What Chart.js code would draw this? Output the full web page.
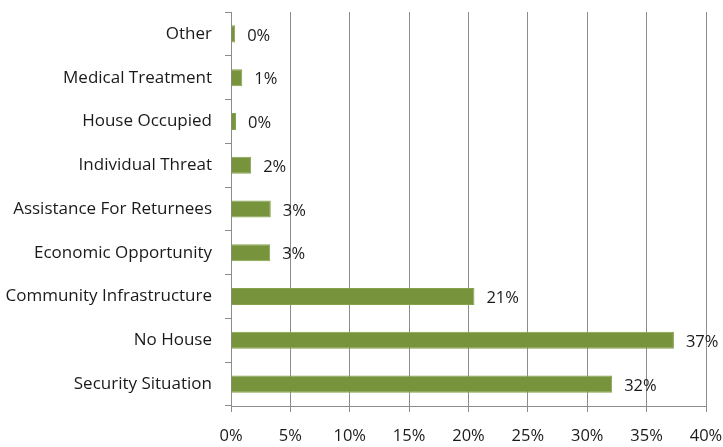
<!DOCTYPE html>
<html>
<head>
<meta charset="utf-8">
<script src="https://cdn.jsdelivr.net/npm/chart.js@4/dist/chart.umd.min.js"></script>
<style>
  html, body { margin: 0; padding: 0; background: #fff; }
  #wrap { width: 723px; height: 447px; }
</style>
</head>
<body>
<div id="wrap"><canvas id="grafico" width="723" height="447"></canvas></div>
<script>
const categorias = [
  'Other',
  'Medical Treatment',
  'House Occupied',
  'Individual Threat',
  'Assistance For Returnees',
  'Economic Opportunity',
  'Community Infrastructure',
  'No House',
  'Security Situation'
];
const valores = [0.35, 0.95, 0.42, 1.7, 3.35, 3.3, 20.5, 37.3, 32.1];
const rotulos = ['0%', '1%', '0%', '2%', '3%', '3%', '21%', '37%', '32%'];
const ticksX = [0, 5, 10, 15, 20, 25, 30, 35, 40];

const fonte = "'Open Sans', 'Liberation Sans', sans-serif";
const corTexto = '#1a1a1a';
const corGrade = '#8c8c8c';

// escreve o valor ao lado de cada barra
const rotulosPlugin = {
  id: 'rotulos',
  afterDatasetsDraw(chart) {
    const ctx = chart.ctx;
    const meta = chart.getDatasetMeta(0);
    ctx.save();
    ctx.font = '16.5px ' + fonte;
    ctx.fillStyle = corTexto;
    ctx.textAlign = 'left';
    ctx.textBaseline = 'middle';
    meta.data.forEach((bar, i) => {
      ctx.fillText(rotulos[i], bar.x + 12, bar.y + 2);
    });
    ctx.restore();
  }
};

new Chart(document.getElementById('grafico'), {
  type: 'bar',
  data: {
    labels: categorias,
    datasets: [{
      data: valores,
      backgroundColor: '#77933c',
      borderColor: '#86a24b',
      borderWidth: 1,
      borderSkipped: 'start',
      barPercentage: 0.39,
      categoryPercentage: 1
    }]
  },
  options: {
    indexAxis: 'y',
    responsive: false,
    animation: false,
    layout: { padding: { top: 12, right: 17, left: 0, bottom: 0 } },
    plugins: {
      legend: { display: false },
      tooltip: { enabled: false }
    },
    scales: {
      x: {
        min: ticksX[0],
        max: ticksX[ticksX.length - 1],
        afterBuildTicks: s => { s.ticks = ticksX.map(v => ({ value: v })); },
        afterFit: s => { s.paddingRight = 0; s.paddingLeft = 0; s.height = 41; },
        ticks: {
          callback: v => v + '%',
          color: corTexto,
          font: { family: fonte, size: 16.5 },
          padding: 14,
          maxRotation: 0
        },
        grid: { color: corGrade, tickLength: 6, lineWidth: 1 },
        border: { color: corGrade }
      },
      y: {
        afterFit: s => { s.width = 231; s.paddingTop = 0; s.paddingBottom = 0; },
        ticks: {
          color: corTexto,
          font: { family: fonte, size: 17 },
          padding: 13
        },
        grid: { drawOnChartArea: false, offset: true, color: corGrade, tickLength: 6 },
        border: { color: corGrade }
      }
    }
  },
  plugins: [rotulosPlugin]
});
</script>
</body>
</html>
